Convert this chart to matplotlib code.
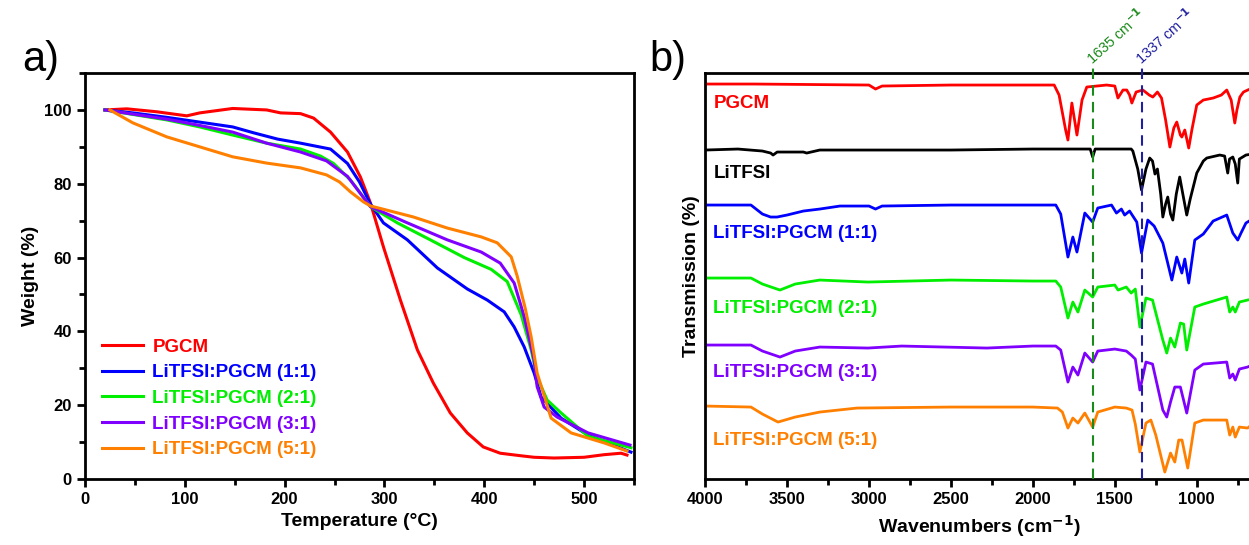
import matplotlib
matplotlib.use("Agg")
import matplotlib.pyplot as plt
from matplotlib.ticker import MultipleLocator

plt.rcParams['font.family'] = ['Liberation Sans', 'DejaVu Sans']
plt.rcParams['font.weight'] = 'bold'
plt.rcParams['axes.labelweight'] = 'bold'

# ---- a) TGA data ----
tga_names = ['PGCM', 'LiTFSI:PGCM (1:1)', 'LiTFSI:PGCM (2:1)', 'LiTFSI:PGCM (3:1)', 'LiTFSI:PGCM (5:1)']
tga_colors = ['#ff0000', '#0000ff', '#00ee00', '#8000ff', '#ff8000']

t_pgcm = [20, 42, 72, 102, 115, 148, 182, 196, 216, 229, 246, 263, 276, 286, 299, 316, 333, 349, 366,
          383, 399, 416, 437, 450, 470, 500, 520, 537, 543]
w_pgcm = [100, 100.3, 99.5, 98.4, 99.2, 100.4, 100, 99.2, 99, 97.8, 94, 88.6, 81.8, 74.8, 62.9, 48.5, 35,
          26, 17.9, 12.5, 8.7, 7, 6.3, 5.9, 5.7, 5.9, 6.6, 7.0, 6.5]

t_11 = [20, 48, 82, 115, 148, 169, 193, 216, 246, 263, 275, 286, 299, 323, 353, 383, 403, 420, 430, 440,
        450, 457, 477, 504, 547]
w_11 = [100, 99.2, 98, 96.7, 95.4, 93.8, 92.1, 91, 89.4, 85.5, 80.5, 74.5, 69.4, 64.8, 57.2, 51.5, 48.5,
        45.3, 41.2, 35.8, 28.7, 22.2, 16.5, 11.9, 7.3]

t_21 = [20, 82, 115, 148, 182, 216, 236, 249, 266, 286, 313, 346, 380, 407, 423, 437, 447, 453, 463, 477,
        504, 547]
w_21 = [100, 97.3, 95.4, 93.2, 91, 89.4, 87.5, 85.5, 81, 73.8, 69.4, 64.8, 60, 56.8, 53.5, 44.5, 35, 27.6,
        21.4, 17.9, 11.6, 8.5]

t_31 = [20, 82, 115, 148, 182, 216, 242, 263, 286, 323, 363, 397, 416, 430, 440, 450, 453, 460, 473, 504, 546]
w_31 = [100, 97.5, 95.8, 94, 91, 88.6, 86.2, 82, 73.8, 69.4, 64.8, 61.5, 58.5, 53.1, 44, 32.2, 25, 19.5,
        16.8, 12.5, 9.2]

t_51 = [25, 48, 82, 115, 148, 182, 216, 242, 255, 266, 279, 286, 329, 363, 397, 413, 427, 433, 441, 447,
        453, 467, 487, 520, 543]
w_51 = [100, 96.5, 92.7, 90, 87.3, 85.6, 84.3, 82.4, 80.5, 77.8, 75.1, 74, 71, 68, 65.6, 64, 60.2, 55,
        46.3, 38.5, 28.7, 16.5, 12.5, 9.8, 7.6]

# ---- b) FTIR data (stacked, arbitrary offset units) ----
ftir_names = ['PGCM', 'LiTFSI', 'LiTFSI:PGCM (1:1)', 'LiTFSI:PGCM (2:1)', 'LiTFSI:PGCM (3:1)', 'LiTFSI:PGCM (5:1)']
ftir_colors = ['#ff0000', '#000000', '#0000ff', '#00ee00', '#8000ff', '#ff8000']
ftir_label_y = [376, 306, 246, 171, 107, 39]

wn_pgcm = [4000, 3700, 3000, 2960, 2920, 2500, 2000, 1870, 1840, 1800, 1786, 1762, 1731, 1700, 1671, 1550,
           1500, 1481, 1450, 1427, 1410, 1396, 1370, 1329, 1290, 1268, 1240, 1215, 1190, 1164, 1140, 1122,
           1100, 1091, 1073, 1049, 1030, 1000, 960, 900, 850, 817, 790, 768, 755, 737, 715, 689, 660]
tr_pgcm = [395, 395, 394, 390, 393, 394, 394, 394, 384, 349, 339, 376, 344, 379, 392, 394,
           393, 381, 389, 389, 384, 376, 387, 389, 384, 382, 387, 381, 359, 332, 351, 357,
           344, 342, 349, 331, 349, 374, 379, 381, 384, 389, 379, 356, 369, 382, 387, 389, 391]

wn_litfsi = [4000, 3800, 3650, 3600, 3585, 3560, 3400, 3380, 3300, 3000, 2500, 2000, 1700, 1650, 1635,
             1620, 1400, 1390, 1360, 1337, 1310, 1287, 1270, 1255, 1240, 1220, 1207, 1190, 1177, 1160,
             1146, 1125, 1104, 1085, 1061, 1040, 1000, 960, 939, 860, 830, 811, 800, 780, 765, 750, 740,
             700, 660]
tr_litfsi = [329, 330, 328, 326, 324, 327, 327, 326, 329, 329, 329, 330, 330, 330, 322,
             330, 330, 328, 310, 289, 310, 321, 318, 305, 310, 285, 262, 275, 282, 265,
             259, 285, 302, 285, 264, 280, 306, 318, 321, 324, 323, 306, 320, 322, 315, 296, 320,
             324, 325]

wn_11 = [4000, 3720, 3650, 3600, 3561, 3500, 3400, 3300, 3177, 3000, 2960, 2920, 2500, 2000, 1860, 1830,
         1786, 1756, 1731, 1683, 1635, 1604, 1520, 1490, 1460, 1440, 1410, 1366, 1337, 1299, 1260, 1207,
         1152, 1122, 1091, 1073, 1049, 1012, 960, 900, 817, 780, 750, 730, 700, 660]
tr_11 = [274, 274, 265, 262, 262, 264, 268, 270, 273, 273, 270, 273, 274, 274, 274, 265,
         222, 242, 227, 266, 257, 271, 274, 266, 270, 264, 268, 257, 226, 259, 253, 236,
         199, 222, 206, 220, 196, 239, 245, 258, 264, 246, 239, 246, 256, 260]

wn_21 = [4000, 3720, 3650, 3543, 3450, 3300, 3006, 2500, 2000, 1860, 1830, 1786, 1756, 1725, 1683, 1635,
         1604, 1500, 1480, 1430, 1400, 1375, 1347, 1310, 1270, 1207, 1183, 1160, 1134, 1100, 1080, 1061,
         1012, 960, 817, 799, 780, 765, 740, 690, 660]
tr_21 = [201, 201, 195, 189, 195, 199, 197, 199, 198, 198, 192, 161, 177, 167, 189, 182,
         192, 194, 189, 192, 186, 190, 152, 181, 179, 139, 126, 141, 132, 156, 155, 129,
         172, 175, 182, 167, 172, 167, 177, 179, 180]

wn_31 = [4000, 3720, 3650, 3543, 3450, 3300, 3006, 2800, 2280, 2000, 1860, 1830, 1786, 1756, 1725, 1683,
         1635, 1604, 1500, 1430, 1400, 1375, 1347, 1310, 1270, 1207, 1183, 1160, 1134, 1100, 1061, 1012,
         960, 817, 799, 780, 765, 740, 690, 660]
tr_31 = [134, 134, 128, 122, 128, 132, 131, 133, 131, 133, 133, 129, 97, 112, 104, 126,
         117, 128, 130, 128, 124, 120, 89, 117, 115, 69, 62, 77, 92, 92, 66, 109,
         115, 117, 101, 105, 99, 110, 112, 114]

wn_51 = [4000, 3720, 3650, 3555, 3450, 3300, 3073, 2500, 2000, 1850, 1820, 1786, 1756, 1725, 1683, 1635,
         1604, 1500, 1430, 1395, 1375, 1347, 1310, 1280, 1250, 1195, 1160, 1134, 1110, 1090, 1055, 1012,
         960, 817, 799, 780, 765, 740, 690, 660]
tr_51 = [73, 72, 65, 57, 62, 67, 71, 72, 72, 71, 67, 51, 61, 56, 66, 52,
         67, 72, 71, 69, 55, 27, 56, 59, 44, 7, 26, 17, 39, 39, 11, 56,
         59, 59, 44, 52, 42, 52, 51, 55]

marker_wn = [1635, 1337]
marker_colors = ['#1a8a1a', '#1f1fa0']

fig = plt.figure(figsize=(12.49, 5.45), dpi=100)
ax1 = fig.add_axes([0.068, 0.121, 0.4396, 0.745])
ax2 = fig.add_axes([0.5645, 0.121, 0.4396, 0.745])

# panel a
tga_t = [t_pgcm, t_11, t_21, t_31, t_51]
tga_w = [w_pgcm, w_11, w_21, w_31, w_51]
for t, w, c, n in zip(tga_t, tga_w, tga_colors, tga_names):
    ax1.plot(t, w, color=c, lw=2.2, label=n)
ax1.set_xlim(0, 550)
ax1.set_ylim(0, 110)
ax1.xaxis.set_major_locator(MultipleLocator(100))
ax1.xaxis.set_minor_locator(MultipleLocator(50))
ax1.yaxis.set_major_locator(MultipleLocator(20))
ax1.yaxis.set_minor_locator(MultipleLocator(10))
ax1.set_xlabel('Temperature (°C)', fontsize=14)
ax1.set_ylabel('Weight (%)', fontsize=14)
leg = ax1.legend(loc='lower left', bbox_to_anchor=(0.0, 0.01), frameon=False, fontsize=13.5,
                 handlelength=2.2, handletextpad=0.5, labelspacing=0.45, labelcolor='linecolor')

# panel b
ftir_wn = [wn_pgcm, wn_litfsi, wn_11, wn_21, wn_31, wn_51]
ftir_tr = [tr_pgcm, tr_litfsi, tr_11, tr_21, tr_31, tr_51]
for x, y, c, n, ly in zip(ftir_wn, ftir_tr, ftir_colors, ftir_names, ftir_label_y):
    ax2.plot(x, y, color=c, lw=2)
    ax2.text(3950, ly, n, color=c, fontsize=13.5, va='center', ha='left')
ax2.set_xlim(4000, 650)
ax2.set_ylim(0, 406)
ax2.xaxis.set_major_locator(MultipleLocator(500))
ax2.xaxis.set_minor_locator(MultipleLocator(250))
ax2.set_yticks([])
ax2.set_xlabel('Wavenumbers (cm$^{-1}$)', fontsize=14)
ax2.set_ylabel('Transmission (%)', fontsize=14)
for wn, c in zip(marker_wn, marker_colors):
    ax2.plot([wn, wn], [0, 412], color=c, lw=1.5, ls=(0, (5, 3)), clip_on=False, zorder=5)
    ax2.text(wn - 12, 411, f'{wn} cm$^{{-1}}$', color=c, fontsize=10.5, fontweight='normal',
             rotation=42, rotation_mode='anchor', ha='left', va='bottom', clip_on=False)

for ax in (ax1, ax2):
    for s in ax.spines.values():
        s.set_linewidth(2)
    ax.tick_params(which='major', direction='out', length=6, width=2, labelsize=12)
    ax.tick_params(which='minor', direction='out', length=4, width=2)

fig.text(0.018, 0.89, 'a)', fontsize=30, fontweight='normal', va='center')
fig.text(0.52, 0.89, 'b)', fontsize=30, fontweight='normal', va='center')

fig.savefig('out.png', dpi=100)
